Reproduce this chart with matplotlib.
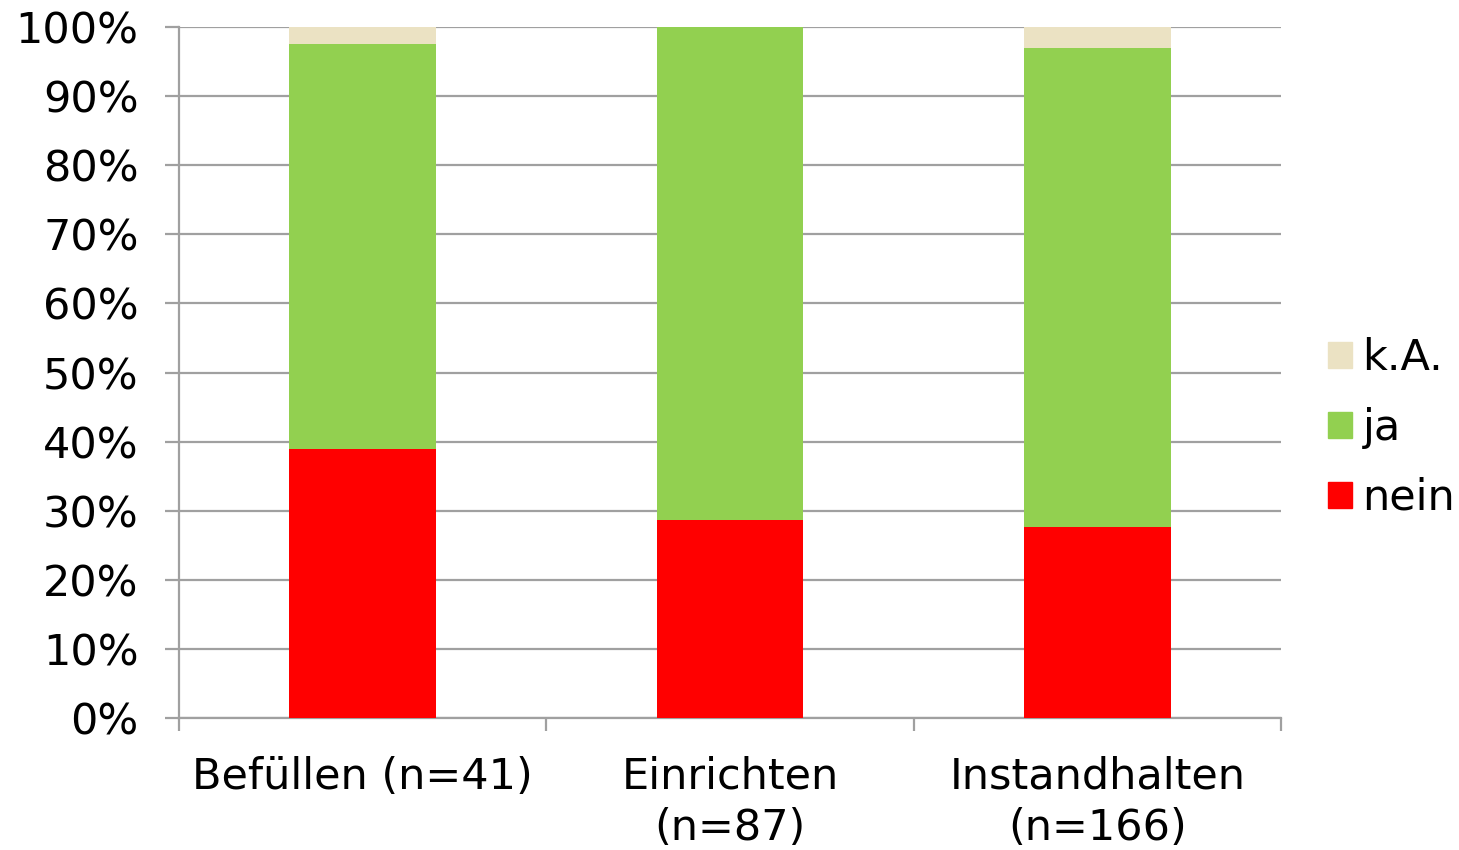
import matplotlib
matplotlib.use("Agg")
import matplotlib.pyplot as plt
import numpy as np
from matplotlib.patches import Patch

categories = ["Befüllen (n=41)", "Einrichten\n(n=87)", "Instandhalten\n(n=166)"]
nein = [39.0, 28.7, 27.7]
ja = [58.6, 71.3, 69.3]
ka = [2.4, 0.0, 3.0]

series_names = ["nein", "ja", "k.A."]
colors = ["#FF0000", "#92D050", "#EBE2C3"]

plt.rcParams["font.family"] = ["DejaVu Sans"]
fig = plt.figure(figsize=(14.59, 8.5), dpi=100)
ax = fig.add_axes([179 / 1459, 1 - 718 / 850, (1281 - 179) / 1459, (718 - 27) / 850])

x = np.arange(len(categories))
width = 0.4
bottom = np.zeros(len(categories))
for vals, name, col in zip([nein, ja, ka], series_names, colors):
    ax.bar(x, vals, width, bottom=bottom, color=col, label=name, zorder=3)
    bottom += np.array(vals)

fs = 31
ax.set_xlim(-0.5, len(categories) - 0.5)
ax.set_ylim(0, 100)
ax.set_yticks(np.arange(0, 101, 10))
ax.set_yticklabels([f"{v}%" for v in range(0, 101, 10)], fontsize=fs)
ax.yaxis.grid(True, color="#A0A0A0", linewidth=1.6, zorder=0)
ax.tick_params(axis="y", length=10, width=1.6, color="#A0A0A0", pad=19)

ax.set_xticks(x)
ax.set_xticklabels(categories, fontsize=fs, linespacing=1.3)
ax.tick_params(axis="x", length=0, pad=27)
ax.set_xticks(np.arange(-0.5, len(categories), 1.0), minor=True)
ax.tick_params(axis="x", which="minor", length=9, width=1.6, color="#A0A0A0")

for side in ["top", "right"]:
    ax.spines[side].set_visible(False)
for side in ["left", "bottom"]:
    ax.spines[side].set_color("#A0A0A0")
    ax.spines[side].set_linewidth(1.6)

handles = [Patch(color=c, label=n) for n, c in zip(series_names, colors)][::-1]
fig.legend(handles=handles, loc="center left", bbox_to_anchor=(1328 / 1459, 1 - 428 / 850),
           frameon=False, fontsize=fs, handlelength=0.55, handleheight=0.55,
           handletextpad=0.25, labelspacing=0.65, borderpad=0, borderaxespad=0)

fig.savefig("out.png", dpi=100)
